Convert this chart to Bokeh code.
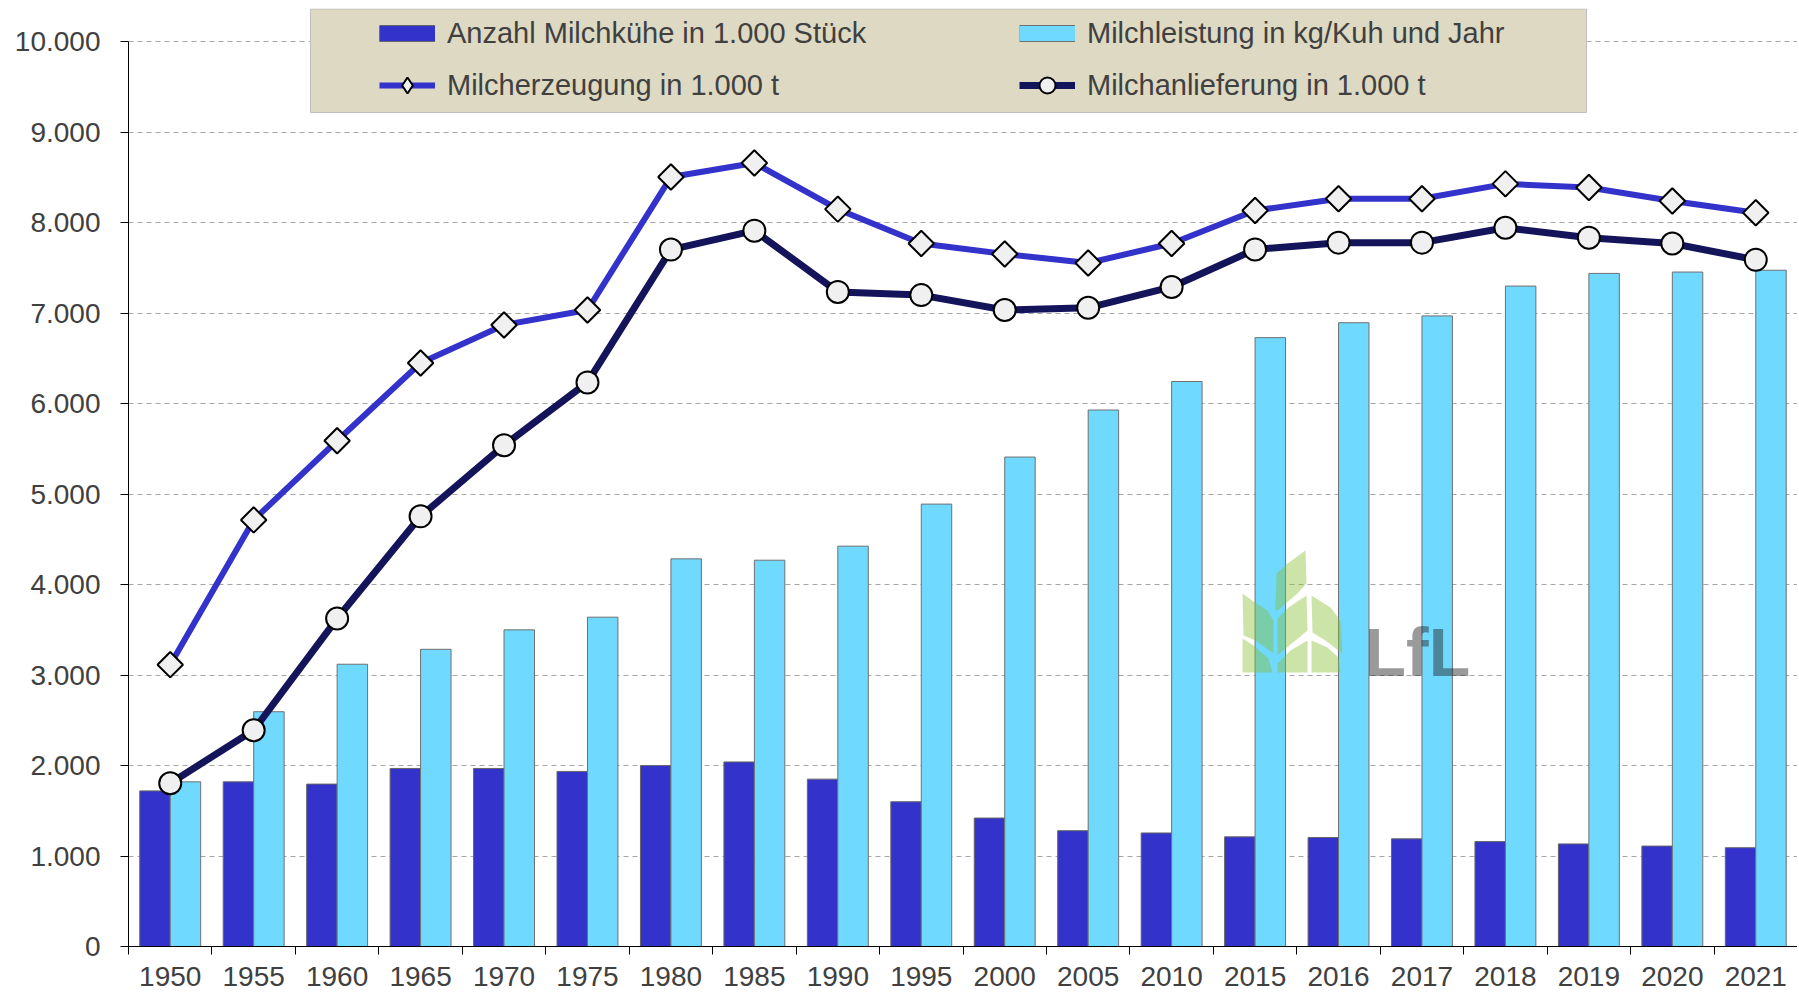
import numpy as np
from bokeh.plotting import figure
from bokeh.models import Range1d, FixedTicker, Legend, LegendItem, ColumnDataSource
from bokeh.transform import dodge
from bokeh.core.properties import value
from bokeh.embed import file_html
from bokeh.resources import INLINE

# ---------------- data ----------------
years = ["1950", "1955", "1960", "1965", "1970", "1975", "1980", "1985", "1990", "1995",
         "2000", "2005", "2010", "2015", "2016", "2017", "2018", "2019", "2020", "2021"]
kuehe = [1720, 1820, 1795, 1968, 1968, 1935, 2000, 2040, 1850, 1600,
         1420, 1280, 1255, 1212, 1205, 1190, 1160, 1134, 1110, 1092]
leistung = [1820, 2595, 3120, 3285, 3500, 3640, 4285, 4270, 4425, 4890,
            5410, 5930, 6245, 6730, 6895, 6970, 7300, 7440, 7455, 7475]
erzeugung = [3115, 4715, 5590, 6450, 6870, 7035, 8505, 8660, 8150, 7770,
             7655, 7555, 7770, 8135, 8265, 8265, 8430, 8390, 8240, 8110]
anlieferung = [1805, 2390, 3625, 4755, 5540, 6235, 7703, 7912, 7235, 7200,
               7035, 7060, 7290, 7705, 7780, 7780, 7945, 7835, 7770, 7590]
y_ticks = [0, 1000, 2000, 3000, 4000, 5000, 6000, 7000, 8000, 9000, 10000]
labels = ["Anzahl Milchkühe in 1.000 Stück", "Milchleistung in kg/Kuh und Jahr",
          "Milcherzeugung in 1.000 t", "Milchanlieferung in 1.000 t"]

# ---------------- layout ----------------
W, H = 1797, 993
ML, MB, MT = 128, 47, 8
n = len(years)
x_lo, x_hi = -0.5, n - 0.5
y_top = 10368
BW = 0.365
FONT = "Liberation Sans"
TXT = "#404040"
C_KUEHE, C_LEIST, C_ERZ, C_ANL = "#3333CC", "#6FD9FF", "#3333CC", "#14145A"

p = figure(width=W, height=H, x_range=Range1d(x_lo, x_hi), y_range=Range1d(0, y_top),
           output_backend="svg", toolbar_location=None,
           min_border_left=ML, min_border_right=0, min_border_top=MT, min_border_bottom=MB)
p.outline_line_color = None
p.background_fill_color = "white"

# pixel -> data helpers for decorations (legend box, watermark)
PXX = (W - ML) / n
PXY = (H - MB - MT) / y_top
def dx(px):
    return (px - ML) / PXX + x_lo
def dy(py):
    return ((H - MB) - py) / PXY

src = ColumnDataSource(dict(x=list(range(n)), kuehe=kuehe, leistung=leistung,
                            erzeugung=erzeugung, anlieferung=anlieferung))

# grid
p.xgrid.visible = False
p.ygrid.ticker = FixedTicker(ticks=y_ticks)
p.ygrid.grid_line_color = "#A6A6A6"
p.ygrid.grid_line_dash = "5 4"
p.ygrid.grid_line_width = 1

# legend background box
p.quad(left=[dx(310)], right=[dx(1586)], top=[dy(8.5)], bottom=[dy(112)],
       fill_color="#DDD9C3", line_color="#BFBFBF", line_width=1)

# bars
r_kuehe = p.vbar(x=dodge("x", -BW / 2, range=p.x_range), top="kuehe", width=BW, source=src,
                 fill_color=C_KUEHE, line_color="#666666", line_width=1)
r_leist = p.vbar(x=dodge("x", BW / 2, range=p.x_range), top="leistung", width=BW, source=src,
                 fill_color=C_LEIST, line_color="#707070", line_width=1)

# watermark logo
leaves = [
    [(1275, 610), (1276, 573), (1287, 563), (1305, 550), (1306, 583), (1297, 593), (1277, 610)],
    [(1242, 593), (1253, 601), (1267, 610), (1273, 620), (1273, 653), (1255, 640), (1243, 635)],
    [(1277, 618), (1288, 607), (1306, 595), (1307, 630), (1295, 640), (1277, 655)],
    [(1311, 595), (1330, 607), (1340, 620), (1342, 653), (1325, 640), (1312, 632)],
    [(1242, 638), (1253, 645), (1268, 658), (1272, 672), (1242, 672)],
    [(1277, 663), (1290, 650), (1307, 640), (1307, 672), (1277, 672)],
    [(1311, 640), (1327, 647), (1338, 657), (1340, 672), (1311, 672)],
]
p.patches(xs=[[dx(a) for a, b in lf] for lf in leaves],
          ys=[[dy(b) for a, b in lf] for lf in leaves],
          fill_color="#89BF32", fill_alpha=0.42, line_color=None)
p.text(x=[dx(1364)], y=[dy(651)], text=["LfL"], text_font=value(FONT), text_font_style="bold",
       text_font_size="68px", text_color="#202020", text_alpha=0.45,
       text_baseline="alphabetic", text_align="left")

# lines
r_erz_l = p.line("x", "erzeugung", source=src, line_color=C_ERZ, line_width=6, line_join="round")
r_erz_m = p.scatter("x", "erzeugung", source=src, marker="square", angle=np.pi / 4, size=18,
                    fill_color="#F0F0F0", line_color="black", line_width=2)
r_anl_l = p.line("x", "anlieferung", source=src, line_color=C_ANL, line_width=7, line_join="round")
r_anl_m = p.scatter("x", "anlieferung", source=src, marker="circle", size=22,
                    fill_color="#F0F0F0", line_color="black", line_width=2)

# hidden legend swatches (same data, drawn only in the legend)
k_kuehe_b = p.line("x", "kuehe", source=src, line_color="#666666", line_width=17, line_cap="butt", visible=False)
k_kuehe = p.line("x", "kuehe", source=src, line_color=C_KUEHE, line_width=15, line_cap="butt", visible=False)
k_leist_b = p.line("x", "leistung", source=src, line_color="#707070", line_width=17, line_cap="butt", visible=False)
k_leist = p.line("x", "leistung", source=src, line_color=C_LEIST, line_width=15, line_cap="butt", visible=False)
k_erz = p.scatter("x", "erzeugung", source=src, marker="diamond", size=18,
                  fill_color="#F0F0F0", line_color="black", line_width=2, visible=False)

# axes
p.yaxis.ticker = FixedTicker(ticks=y_ticks, minor_ticks=[])
p.yaxis.bounds = (0, 10000)
p.yaxis.major_label_overrides = {v: f"{v:,}".replace(",", ".") for v in y_ticks}
p.yaxis.major_tick_in = 0
p.yaxis.major_tick_out = 8
p.yaxis.minor_tick_out = 0
p.yaxis.major_label_standoff = 20

p.xaxis.ticker = FixedTicker(ticks=list(range(n)), minor_ticks=[i - 0.5 for i in range(n + 1)])
p.xaxis.major_label_overrides = {i: years[i] for i in range(n)}
p.xaxis.major_tick_in = 0
p.xaxis.major_tick_out = 0
p.xaxis.minor_tick_in = 0
p.xaxis.minor_tick_out = 8
p.xaxis.minor_tick_line_color = "black"
p.xaxis.major_label_standoff = 12

for ax in (p.xaxis, p.yaxis):
    ax.axis_line_color = "black"
    ax.axis_line_width = 1
    ax.major_tick_line_color = "black"
    ax.major_label_text_font = FONT
    ax.major_label_text_font_size = "28px"
    ax.major_label_text_color = TXT

legend = Legend(items=[
    LegendItem(label=labels[0], renderers=[k_kuehe_b, k_kuehe]),
    LegendItem(label=labels[1], renderers=[k_leist_b, k_leist]),
    LegendItem(label=labels[2], renderers=[r_erz_l, k_erz]),
    LegendItem(label=labels[3], renderers=[r_anl_l, r_anl_m]),
], ncols=2, orientation="horizontal", location=(246, 836), margin=0, padding=5,
    glyph_width=56, glyph_height=40, label_height=40, label_width=560,
    label_standoff=12, spacing=12,
    label_text_font=FONT, label_text_font_size="29px", label_text_color=TXT,
    background_fill_alpha=0, border_line_alpha=0)
p.add_layout(legend, "center")

open("out.html", "w").write(file_html(p, INLINE))
